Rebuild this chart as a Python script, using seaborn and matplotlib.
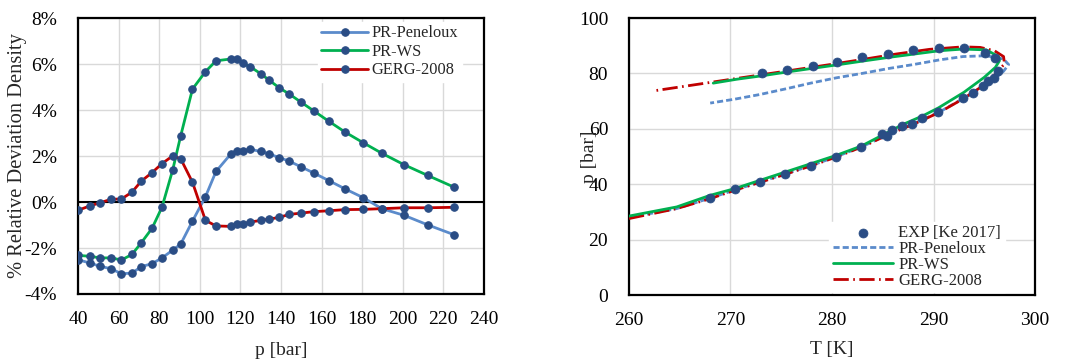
import numpy as np
import pandas as pd
import matplotlib
matplotlib.use("Agg")
import matplotlib.pyplot as plt
import seaborn as sns

# ---- left panel: relative deviation of density vs pressure ----
p_bar = [40, 45.8, 51, 56.3, 61.4, 66.6, 71.2, 76.5, 81.4, 86.7, 90.6, 96.4,
         102.8, 108, 115.3, 118.2, 121.3, 124.9, 130, 134.3, 139.1, 144,
         150.1, 156.2, 163.6, 171.6, 180.5, 189.7, 200.7, 212.2, 225.2]
dev_peneloux = [-2.51, -2.65, -2.80, -2.90, -3.12, -3.09, -2.81, -2.68, -2.43,
                -2.09, -1.83, -0.83, 0.23, 1.33, 2.09, 2.23, 2.23, 2.29, 2.20,
                2.09, 1.93, 1.78, 1.52, 1.26, 0.93, 0.57, 0.19, -0.29, -0.58,
                -0.99, -1.42]
dev_ws = [-2.32, -2.36, -2.43, -2.43, -2.52, -2.28, -1.77, -1.14, -0.22, 1.41,
          2.88, 4.91, 5.67, 6.14, 6.22, 6.20, 6.03, 5.88, 5.58, 5.29, 4.97,
          4.70, 4.33, 3.96, 3.51, 3.04, 2.58, 2.12, 1.62, 1.16, 0.65]
dev_gerg = [-0.36, -0.17, -0.03, 0.12, 0.13, 0.43, 0.91, 1.28, 1.67, 2.01,
            1.88, 0.86, -0.80, -1.04, -1.06, -0.96, -0.96, -0.87, -0.80, -0.74,
            -0.67, -0.54, -0.48, -0.42, -0.38, -0.33, -0.32, -0.29, -0.25,
            -0.25, -0.23]

# ---- right panel: phase envelope ----
exp_T = [268.0, 270.4, 272.9, 275.4, 277.9, 280.4, 282.9, 284.9, 285.4, 285.9,
         286.9, 287.9, 288.9, 290.4, 292.9, 293.9, 294.9, 295.4, 296.0, 296.4,
         296.1, 295.1, 293.0, 290.5, 288.0, 285.5, 283.0, 280.5, 278.1, 275.6,
         273.1]
exp_p = [35.2, 38.1, 40.7, 43.6, 46.5, 49.8, 53.6, 58.0, 57.5, 59.7, 61.1,
         61.8, 64.0, 66.0, 71.0, 72.9, 75.6, 77.4, 78.2, 80.9, 85.7, 87.3,
         89.2, 89.2, 88.5, 87.2, 85.8, 84.3, 82.8, 81.4, 80.0]

ws_T = [260.0, 264.7, 268.0, 270.4, 272.9, 275.4, 277.9, 280.4, 282.9, 284.9,
        287.0, 289.0, 290.5, 293.0, 295.0, 296.1, 296.5, 296.4, 295.2, 292.9,
        290.6, 288.1, 285.6, 283.1, 280.7, 278.2, 275.7, 273.2, 270.6, 268.3]
ws_p = [28.5, 31.8, 36.0, 38.4, 41.4, 44.4, 47.4, 50.4, 53.8, 57.6, 61.6,
        64.8, 67.6, 73.2, 78.6, 82.2, 84.6, 86.1, 88.5, 88.8, 88.2, 87.0,
        85.8, 84.5, 83.2, 81.9, 80.6, 79.2, 77.9, 76.5]

gerg_T = [260.0, 264.7, 268.0, 270.4, 272.9, 275.4, 277.9, 280.4, 283.1, 285.7,
          288.0, 290.6, 292.9, 293.9, 294.9, 295.9, 296.5, 297.0, 296.9, 296.0,
          294.6, 292.9, 289.6, 286.3, 283.1, 279.8, 276.5, 273.2, 269.9, 267.0,
          262.6]
gerg_p = [27.6, 31.2, 34.8, 37.8, 40.7, 43.6, 46.6, 49.8, 53.7, 58.2, 61.6,
          66.0, 70.8, 73.2, 75.6, 78.9, 81.6, 83.4, 86.1, 88.2, 89.4, 89.6,
          88.7, 87.0, 85.1, 83.2, 81.4, 79.6, 77.8, 76.2, 73.8]

pen_T = [260.0, 264.7, 268.0, 270.4, 272.9, 275.4, 277.9, 280.4, 283.1, 285.7,
         288.0, 290.6, 292.9, 294.9, 296.0, 296.9, 297.4, 296.9, 295.2, 292.9,
         290.6, 288.0, 285.6, 283.1, 280.4, 277.9, 275.4, 272.9, 270.4, 268.0]
pen_p = [28.0, 31.2, 35.0, 37.9, 40.8, 43.7, 46.7, 49.9, 53.8, 58.3, 61.8,
         66.1, 70.9, 75.0, 78.0, 80.8, 83.2, 85.2, 86.4, 86.1, 84.9, 83.2,
         81.8, 80.1, 78.4, 76.5, 74.4, 72.4, 70.7, 69.3]

C_BLUE = "#5B8BCB"
C_GREEN = "#00B050"
C_RED = "#C00000"
C_MARK = "#2A4D85"
GRID = "#D9D9D9"

sns.set_theme(style="white")
plt.rcParams["font.family"] = ["Liberation Serif", "DejaVu Serif"]

fig = plt.figure(figsize=(10.73, 3.61), dpi=100)
ax1 = fig.add_axes([0.0727, 0.1856, 0.3783, 0.7644])
ax2 = fig.add_axes([0.5862, 0.1828, 0.3784, 0.7672])

# ---------- left panel ----------
mk = dict(marker="o", markersize=5.4, markerfacecolor=C_MARK,
          markeredgecolor=C_MARK, linewidth=2.0)
df_dev = pd.DataFrame({"p": p_bar, "pen": dev_peneloux, "ws": dev_ws,
                       "gerg": dev_gerg})
ax1.axhline(0, color="black", lw=1.5, zorder=2)
sns.lineplot(data=df_dev, x="p", y="pen", ax=ax1, color=C_BLUE,
             label="PR-Peneloux", sort=False, estimator=None, zorder=3, **mk)
sns.lineplot(data=df_dev, x="p", y="ws", ax=ax1, color=C_GREEN,
             label="PR-WS", sort=False, estimator=None, zorder=3, **mk)
sns.lineplot(data=df_dev, x="p", y="gerg", ax=ax1, color=C_RED,
             label="GERG-2008", sort=False, estimator=None, zorder=3, **mk)

ax1.set_xlim(40, 240)
ax1.set_ylim(-4, 8)
ax1.set_xticks(np.arange(40, 241, 20))
ax1.set_yticks(np.arange(-4, 9, 2))
ax1.set_yticklabels([f"{v}%" for v in range(-4, 9, 2)])
ax1.set_xlabel("p [bar]", fontsize=14, labelpad=10)
ax1.set_ylabel("% Relative Deviation Density", fontsize=14.8, labelpad=-1.5)
ax1.legend(loc="upper right", bbox_to_anchor=(0.945, 0.985), fontsize=11.8,
           frameon=True, fancybox=False, framealpha=1, edgecolor="white",
           handlelength=2.9, handletextpad=0.2, labelspacing=0.15,
           borderpad=0.2, borderaxespad=0.0)

# ---------- right panel ----------
df_exp = pd.DataFrame({"T": exp_T, "p": exp_p})
df_ws = pd.DataFrame({"T": ws_T, "p": ws_p})
df_gerg = pd.DataFrame({"T": gerg_T, "p": gerg_p})
df_pen = pd.DataFrame({"T": pen_T, "p": pen_p})

sns.lineplot(data=df_pen, x="T", y="p", ax=ax2, color=C_BLUE, lw=2.0,
             sort=False, estimator=None, label="PR-Peneloux", zorder=3,
             linestyle=(0, (2.2, 1.1)))
sns.lineplot(data=df_ws, x="T", y="p", ax=ax2, color=C_GREEN, lw=2.0,
             sort=False, estimator=None, label="PR-WS", zorder=4)
sns.lineplot(data=df_gerg, x="T", y="p", ax=ax2, color=C_RED, lw=2.0,
             sort=False, estimator=None, label="GERG-2008", zorder=3,
             linestyle=(0, (5.5, 1.6, 0.6, 1.6)))
sns.scatterplot(data=df_exp, x="T", y="p", ax=ax2, color=C_MARK, s=42,
                edgecolor=C_MARK, linewidth=0.5, label="EXP [Ke 2017]",
                zorder=5)

ax2.set_xlim(260, 300)
ax2.set_ylim(0, 100)
ax2.set_xticks(np.arange(260, 301, 10))
ax2.set_yticks(np.arange(0, 101, 20))
ax2.set_xlabel("T [K]", fontsize=14, labelpad=9)
ax2.set_ylabel("p [bar]", fontsize=14, labelpad=-14)

h, l = ax2.get_legend_handles_labels()
order = [l.index(n) for n in ["EXP [Ke 2017]", "PR-Peneloux", "PR-WS",
                              "GERG-2008"]]
ax2.legend([h[i] for i in order], [l[i] for i in order], loc="lower right",
           bbox_to_anchor=(0.925, 0.01), fontsize=12, frameon=True,
           fancybox=False, framealpha=1, edgecolor="white", handlelength=3.6,
           handletextpad=0.35, labelspacing=0.0, borderpad=0.2,
           borderaxespad=0.0)

for ax in (ax1, ax2):
    ax.grid(True, color=GRID, lw=1.0, zorder=0)
    ax.set_axisbelow(True)
    ax.tick_params(axis="both", which="both", length=0, labelsize=14,
                   colors="black")
    ax.tick_params(axis="y", pad=15)
    ax.tick_params(axis="x", pad=12)
    for s in ax.spines.values():
        s.set_visible(True)
        s.set_color("black")
        s.set_linewidth(1.6)
    ax.set_facecolor("white")

fig.savefig("out.png", dpi=100, facecolor="white")
